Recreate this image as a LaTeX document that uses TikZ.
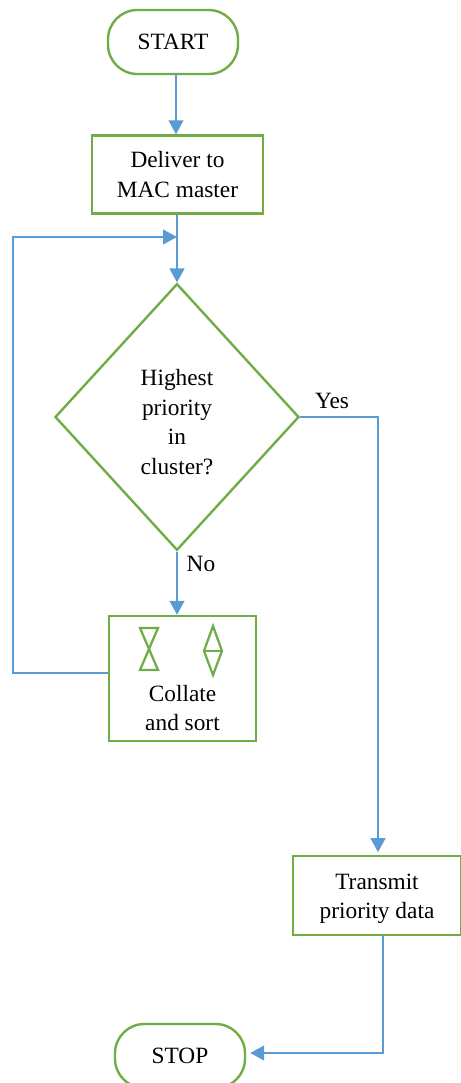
\documentclass[tikz,border=0pt]{standalone}
\usepackage{fontspec}
\setmainfont{Liberation Serif}
\usetikzlibrary{shapes.geometric,arrows.meta}
\definecolor{fgreen}{HTML}{70AD47}
\definecolor{fblue}{HTML}{5B9BD5}
\begin{document}
\begin{tikzpicture}[x=0.75pt,y=-0.75pt,
  every node/.style={font=\fontsize{17.5}{22}\selectfont, align=center, inner sep=0pt},
  termbox/.style={draw=fgreen, line width=1.8pt, rounded corners=22pt, minimum width=97.5pt, minimum height=48pt},
  procbox/.style={draw=fgreen, line width=1.8pt},
  decbox/.style={draw=fgreen, line width=1.8pt, diamond, minimum width=183pt, minimum height=200pt},
  flow/.style={draw=fblue, line width=1.7pt, -{Triangle[length=10.5pt,width=11pt]}},
  flowplain/.style={draw=fblue, line width=1.7pt},
  sym/.style={draw=fgreen, line width=1.7pt}
]
\useasboundingbox (0,0) rectangle (461,1083);
\node[termbox] (start) at (173,42) {START};
\node[procbox, minimum width=128.25pt, minimum height=58.5pt] (deliver) at (177.5,174.5) {Deliver to\\MAC master};
\node[decbox] (dec) at (177,417) {};
\node[font=\fontsize{17.5}{22.3}\selectfont] (dectxt) at (177,422) {Highest\\priority\\in\\cluster?};
\node[procbox, minimum width=110.25pt, minimum height=93.75pt] (collate) at (182.5,678.5) {};
\node (collatetxt) at (182.5,708) {Collate\\and sort};
\node[procbox, minimum width=126pt, minimum height=59.25pt] (transmit) at (377,895.5) {};
\node (transmittxt) at (377,898.5) {Transmit\\priority data};
\node[termbox] (stop) at (180,1056) {STOP};
\node (yes) at (332,401) {Yes};
\node (no) at (201,564) {No};
% symbols in collate box
\draw[sym] (140,628) -- (158,628) -- (140,670) -- (158,670) -- cycle;
\draw[sym] (213,626) -- (222,651) -- (213,675) -- (204,651) -- cycle;
\draw[sym] (204,651) -- (222,651);
% coordinates
\coordinate (merge) at (177,237);
\coordinate (loopa) at (13,673);
\coordinate (loopb) at (13,237);
\coordinate (yesa) at (378,417);
\coordinate (tout) at (383,935);
\coordinate (tcorner) at (383,1053);
% connectors
\draw[flow] (start.south -| 176,0) -- (deliver.north -| 176,0);
\draw[flowplain] (deliver.south -| 177,0) -- (merge);
\draw[flow] (merge) -- (dec.north);
\draw[flow] (collate.west |- loopa) -- (loopa) -- (loopb) -- (merge);
\draw[flow] (dec.south) -- (collate.north -| dec.south);
\draw[flow] (dec.east) -- (yesa) -- ([yshift=2pt]transmit.north -| yesa);
\draw[flow] (tout) -- (tcorner) -- ([xshift=3pt]stop.east |- tcorner);
\end{tikzpicture}
\end{document}
